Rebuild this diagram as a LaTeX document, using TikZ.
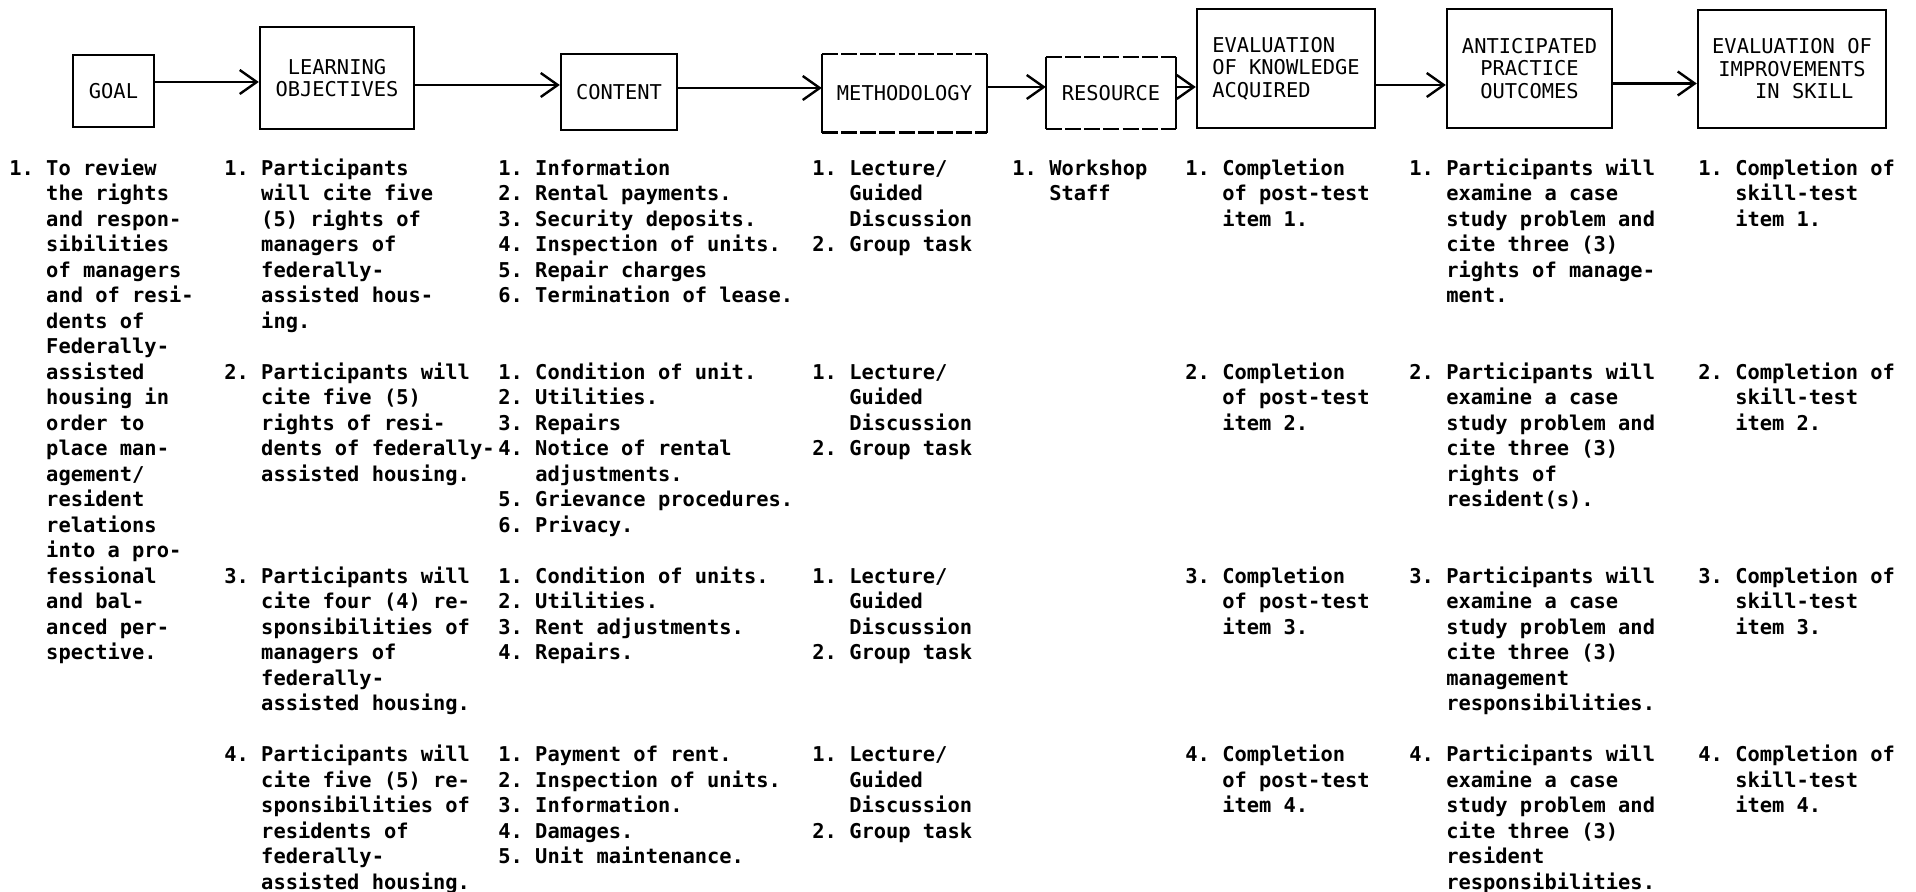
\documentclass[tikz,border=0pt]{standalone}
\usepackage{fontspec}
\usepackage{tikz}
\usetikzlibrary{positioning,arrows.meta}
\newfontfamily\typefont{DejaVu Sans Mono}
\newcommand{\steps}[1]{\begin{tabular}{@{}l@{\ }l@{}}#1\end{tabular}}

\begin{document}
\begin{tikzpicture}[
  x=0.5pt, y=-0.5pt,
  head/.style={draw, line width=1.2pt, inner sep=0pt, align=center,
               font=\fontsize{10.2pt}{11.25pt}\selectfont\typefont},
  headopen/.style={head, draw=none},
  typed/.style={line width=1.2pt, dash pattern=on 8pt off 1.6pt},
  flow/.style={-{Straight Barb[length=8.5pt,width=12pt]}, line width=1.2pt},
  col/.style={anchor=north west, inner sep=0pt,
              font=\fontsize{10.2pt}{12.75pt}\selectfont\typefont\bfseries},
]
\useasboundingbox (0,0) rectangle (1916,892);

% ---- Cajas de cabecera ----
\node[head, minimum width=40.5pt, minimum height=36pt]   (goal) at (113.5,91)   {GOAL};
\node[head, minimum width=77pt,   minimum height=51pt]   (lo)   at (337,78)     {LEARNING\\OBJECTIVES};
\node[head, minimum width=58pt,   minimum height=38pt]   (cont) at (619,92)     {CONTENT};
\node[headopen, minimum width=81.5pt, minimum height=38pt] (meth) at (904.5,93.5) {METHODOLOGY};
\node[headopen, minimum width=64pt,   minimum height=35pt] (res)  at (1111,93)    {RESOURCE};
\node[head, align=left, minimum width=89pt, minimum height=59.5pt] (evk) at (1286,68.5)
      {EVALUATION\\OF KNOWLEDGE\\ACQUIRED};
\node[head, minimum width=82.5pt, minimum height=59.5pt] (outc) at (1529.5,68.5)
      {ANTICIPATED\\PRACTICE\\OUTCOMES};
\node[head, minimum width=94pt,   minimum height=59pt]   (evs)  at (1792,69)
      {EVALUATION OF\\IMPROVEMENTS\\\hphantom{II}IN SKILL};

% ---- Bordes mecanografiados ----
\draw[line width=1.2pt] (meth.north west) -- (meth.south west) (meth.north east) -- (meth.south east);
\draw[typed] (meth.north west) -- (meth.north east) (meth.south west) -- (meth.south east);
\draw[line width=1.2pt] (res.north west) -- (res.south west) (res.north east) -- (res.south east);
\draw[typed] (res.north west) -- (res.north east) (res.south west) -- (res.south east);

% ---- Flechas ----
\coordinate (y1) at (0,82);
\coordinate (y2) at (0,85);
\coordinate (y3) at (0,88);
\coordinate (y4) at (0,87);
\coordinate (y6) at (0,85);
\coordinate (y7) at (0,83.5);
\draw[flow] (goal.east |- y1) -- (lo.west |- y1);
\draw[flow] (lo.east |- y2)   -- (cont.west |- y2);
\draw[flow] (cont.east |- y3) -- (meth.west |- y3);
\draw[flow] (meth.east |- y4) -- (res.west |- y4);
\draw[flow] (res.east |- y4)  -- (evk.west |- y4);
\draw[flow] (evk.east |- y6)  -- (outc.west |- y6);
\draw[flow] (outc.east |- y7) -- (evs.west |- y7);

% ---- Columnas de texto ----
\node[col] (goaltxt) at (9,157.2) {\steps{
1. & To review\\
   & the rights\\
   & and respon-\\
   & sibilities\\
   & of managers\\
   & and of resi-\\
   & dents of\\
   & Federally-\\
   & assisted\\
   & housing in\\
   & order to\\
   & place man-\\
   & agement/\\
   & resident\\
   & relations\\
   & into a pro-\\
   & fessional\\
   & and bal-\\
   & anced per-\\
   & spective.}};

\node[col] (lotxt) at (224,157.2) {\steps{
1. & Participants\\
   & will cite five\\
   & (5) rights of\\
   & managers of\\
   & federally-\\
   & assisted hous-\\
   & ing.\\
   & \\
2. & Participants will\\
   & cite five (5)\\
   & rights of resi-\\
   & dents of federally-\\
   & assisted housing.\\
   & \\
   & \\
   & \\
3. & Participants will\\
   & cite four (4) re-\\
   & sponsibilities of\\
   & managers of\\
   & federally-\\
   & assisted housing.\\
   & \\
4. & Participants will\\
   & cite five (5) re-\\
   & sponsibilities of\\
   & residents of\\
   & federally-\\
   & assisted housing.}};

\node[col] (conttxt) at (498,157.2) {\steps{
1. & Information\\
2. & Rental payments.\\
3. & Security deposits.\\
4. & Inspection of units.\\
5. & Repair charges\\
6. & Termination of lease.\\
   & \\
   & \\
1. & Condition of unit.\\
2. & Utilities.\\
3. & Repairs\\
4. & Notice of rental\\
   & adjustments.\\
5. & Grievance procedures.\\
6. & Privacy.\\
   & \\
1. & Condition of units.\\
2. & Utilities.\\
3. & Rent adjustments.\\
4. & Repairs.\\
   & \\
   & \\
   & \\
1. & Payment of rent.\\
2. & Inspection of units.\\
3. & Information.\\
4. & Damages.\\
5. & Unit maintenance.}};

\node[col] (methtxt) at (812,157.2) {\steps{
1. & Lecture/\\
   & Guided\\
   & Discussion\\
2. & Group task\\
   & \\ & \\ & \\ & \\
1. & Lecture/\\
   & Guided\\
   & Discussion\\
2. & Group task\\
   & \\ & \\ & \\ & \\
1. & Lecture/\\
   & Guided\\
   & Discussion\\
2. & Group task\\
   & \\ & \\ & \\
1. & Lecture/\\
   & Guided\\
   & Discussion\\
2. & Group task}};

\node[col] (restxt) at (1012,157.2) {\steps{
1. & Workshop\\
   & Staff}};

\node[col] (evktxt) at (1185,157.2) {\steps{
1. & Completion\\
   & of post-test\\
   & item 1.\\
   & \\ & \\ & \\ & \\ & \\
2. & Completion\\
   & of post-test\\
   & item 2.\\
   & \\ & \\ & \\ & \\ & \\
3. & Completion\\
   & of post-test\\
   & item 3.\\
   & \\ & \\ & \\ & \\
4. & Completion\\
   & of post-test\\
   & item 4.}};

\node[col] (outctxt) at (1409,157.2) {\steps{
1. & Participants will\\
   & examine a case\\
   & study problem and\\
   & cite three (3)\\
   & rights of manage-\\
   & ment.\\
   & \\ & \\
2. & Participants will\\
   & examine a case\\
   & study problem and\\
   & cite three (3)\\
   & rights of\\
   & resident(s).\\
   & \\ & \\
3. & Participants will\\
   & examine a case\\
   & study problem and\\
   & cite three (3)\\
   & management\\
   & responsibilities.\\
   & \\
4. & Participants will\\
   & examine a case\\
   & study problem and\\
   & cite three (3)\\
   & resident\\
   & responsibilities.}};

\node[col] (evstxt) at (1698,157.2) {\steps{
1. & Completion of\\
   & skill-test\\
   & item 1.\\
   & \\ & \\ & \\ & \\ & \\
2. & Completion of\\
   & skill-test\\
   & item 2.\\
   & \\ & \\ & \\ & \\ & \\
3. & Completion of\\
   & skill-test\\
   & item 3.\\
   & \\ & \\ & \\ & \\
4. & Completion of\\
   & skill-test\\
   & item 4.}};

\end{tikzpicture}
\end{document}
